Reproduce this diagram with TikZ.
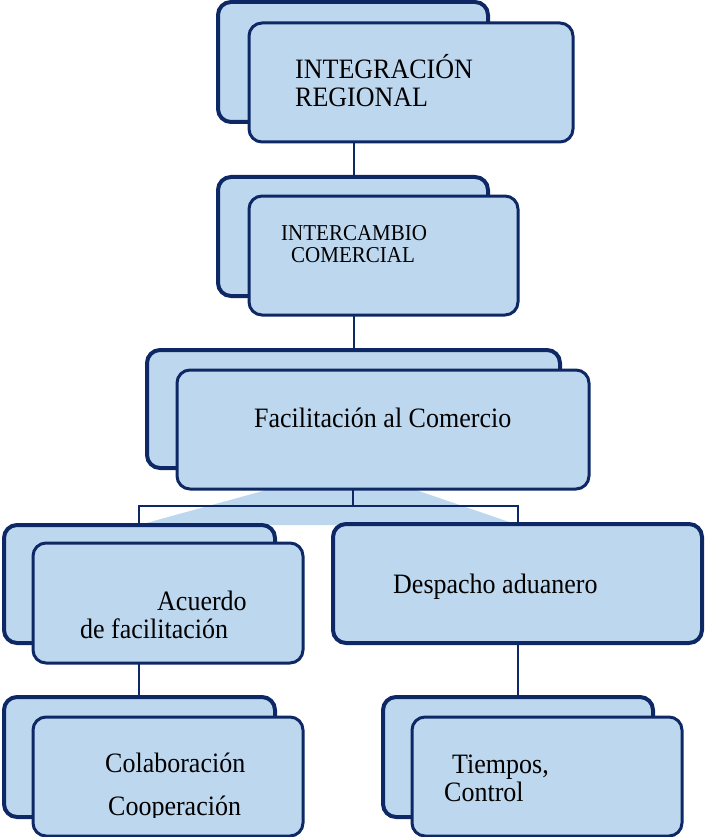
\documentclass[tikz,border=0pt]{standalone}
\usepackage{fontspec}
\setmainfont{Liberation Serif}
\usetikzlibrary{calc}
\definecolor{boxblue}{RGB}{189,215,238}
\definecolor{boxline}{RGB}{14,40,101}
\newcommand{\tall}[1]{\scalebox{1}[1.08]{#1}}
\tikzset{
	backbox/.style={rectangle, draw=boxline, fill=boxblue, line width=4pt, rounded corners=13pt, inner sep=0pt, outer sep=0pt, anchor=north west},
	frontbox/.style={backbox, line width=3pt},
	boxtext/.style={anchor=base west, inner sep=0pt, font=\fontsize{26}{30}\selectfont},
	smalltext/.style={boxtext, font=\fontsize{21}{25}\selectfont},
	link/.style={draw=boxline, line width=2.5pt}
}

\begin{document}
\begin{tikzpicture}[x=1pt, y=-1pt]
	\useasboundingbox (0,0) rectangle (704,837);
	
	\coordinate (spine) at (354,0);
	\coordinate (forkL) at (139,506);
	\coordinate (forkM) at (353,506);
	\coordinate (forkR) at (518,506);
	
	\fill[boxblue] (270,489) -- (413,489) -- (forkR |- 0,525) -- (forkL |- 0,525) -- cycle;
	
	\node[backbox, minimum width=270pt, minimum height=120pt] (integB) at (218,2) {};
	\node[frontbox, minimum width=324pt, minimum height=119pt] (integ) at (249,23) {};
	\node[boxtext] (integT1) at (295,79) {\tall{INTEGRACIÓN}};
	\node[boxtext] (integT2) at (295,107) {\tall{REGIONAL}};
	
	\node[backbox, minimum width=270pt, minimum height=119pt] (interB) at (218,177) {};
	\node[frontbox, minimum width=269pt, minimum height=119pt] (inter) at (249,196) {};
	\node[smalltext] (interT1) at (281,240) {\tall{INTERCAMBIO}};
	\node[smalltext] (interT2) at (291,262) {\tall{COMERCIAL}};
	
	\node[backbox, minimum width=413pt, minimum height=118pt] (facilB) at (147,350) {};
	\node[frontbox, minimum width=412pt, minimum height=119pt] (facil) at (177,370) {};
	\node[boxtext] (facilT) at (254,427) {\tall{Facilitación al Comercio}};
	
	\node[backbox, minimum width=271pt, minimum height=118pt] (acuB) at (4,525) {};
	\node[frontbox, minimum width=270pt, minimum height=120pt] (acu) at (33,543) {};
	\node[boxtext] (acuT1) at (157,610) {\tall{Acuerdo}};
	\node[boxtext] (acuT2) at (80,638) {\tall{de facilitación}};
	
	\node[backbox, minimum width=369pt, minimum height=119pt] (desp) at (333,524) {};
	\node[boxtext] (despT) at (393,593) {\tall{Despacho aduanero}};
	
	\node[backbox, minimum width=271pt, minimum height=120pt] (colabB) at (4,697) {};
	\node[frontbox, minimum width=270pt, minimum height=119pt] (colab) at (33,717) {};
	\node[boxtext] (colabT1) at (105,772) {\tall{Colaboración}};
	\begin{scope}
		\clip (0,0) rectangle (704,817);
		\node[boxtext] (colabT2) at (108,815) {\tall{Cooperación}};
	\end{scope}
	
	\node[backbox, minimum width=270pt, minimum height=120pt] (tiemB) at (383,697) {};
	\node[frontbox, minimum width=270pt, minimum height=119pt] (tiem) at (412,717) {};
	\node[boxtext] (tiemT1) at (452,773) {\tall{Tiempos,}};
	\node[boxtext] (tiemT2) at (444,801) {\tall{Control}};
	
	\draw[link] (integ.south -| spine) -- (interB.north -| spine);
	\draw[link] (inter.south -| spine) -- (facilB.north -| spine);
	\draw[link] (facil.south -| forkM) -- (forkM);
	\draw[link] (acuB.north -| forkL) |- (forkR) -- (desp.north -| forkR);
	\draw[link] (acu.south -| forkL) -- (colabB.north -| forkL);
	\draw[link] (desp.south -| forkR) -- (tiemB.north -| forkR);
\end{tikzpicture}
\end{document}
